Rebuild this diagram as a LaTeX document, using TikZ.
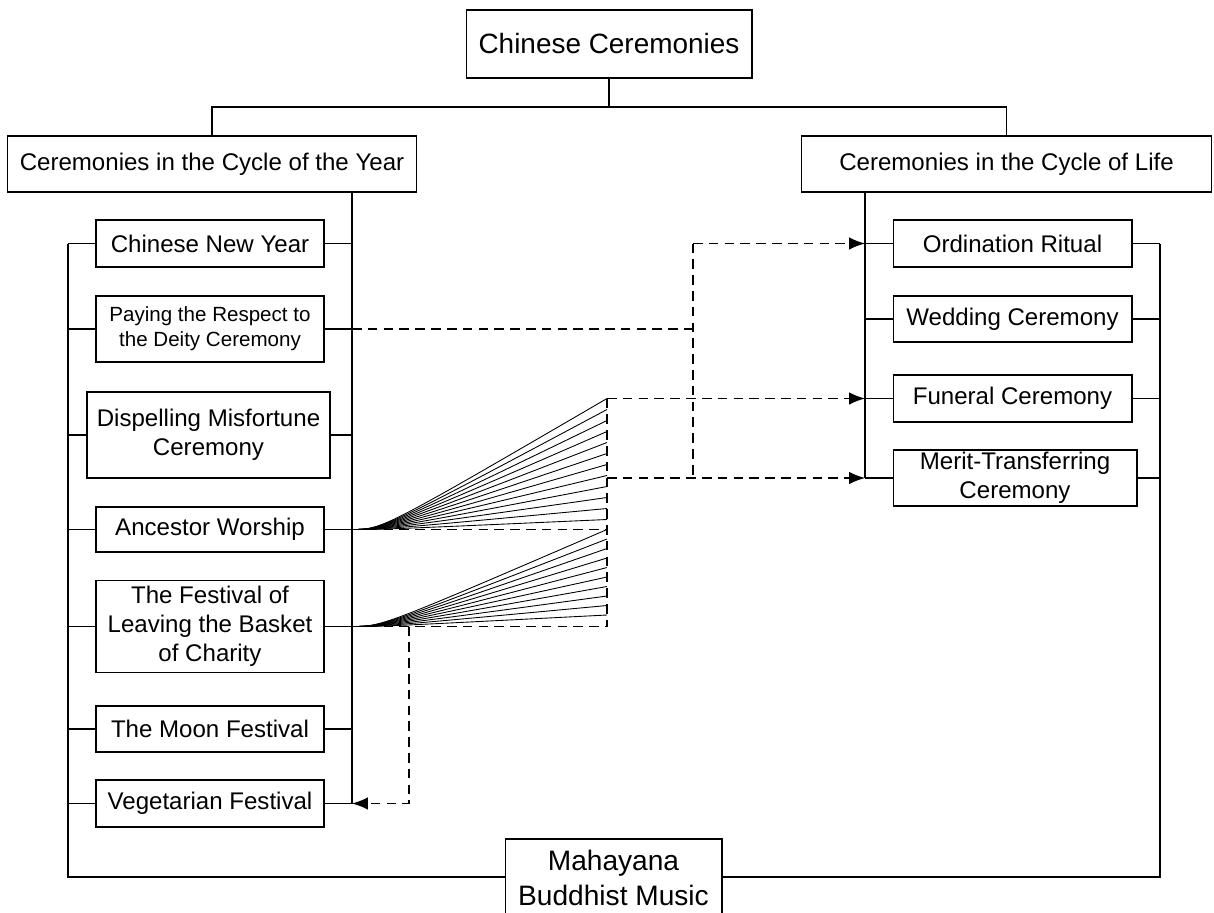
\documentclass[tikz,border=0pt]{standalone}
\usepackage{fontspec}
\setmainfont{Liberation Sans}
\usetikzlibrary{positioning}
\usetikzlibrary{calc}
\usetikzlibrary{arrows.meta}

\begin{document}
\begin{tikzpicture}
	[
		x = 0.02cm, y = -0.02cm,
		box/.style = {rectangle, draw = black, line width = 0.6pt, align = center, inner sep = 0pt, font = \fontsize{13.7}{16.5}\selectfont},
		leftbox/.style = {box, minimum width = 4.56cm, minimum height = 0.94cm},
		rightbox/.style = {box, minimum width = 4.78cm, minimum height = 0.94cm},
		link/.style = {line width = 0.6pt},
		dashlink/.style = {line width = 0.7pt, dash pattern = on 5.5pt off 3.5pt},
		fanline/.style = {line width = 0.5pt},
		tip/.style = {-{Latex[length = 9pt, width = 7pt]}},
	]
	\useasboundingbox (0,0) rectangle (1214,913);

	\node (root) [box, minimum width = 5.72cm, minimum height = 1.36cm, font = \fontsize{15.9}{19}\selectfont] at (609,44) {Chinese Ceremonies};
	\node (year) [box, minimum width = 8.2cm, minimum height = 1.12cm] at (212,164) {Ceremonies in the Cycle of the Year};
	\node (life) [box, minimum width = 8.22cm, minimum height = 1.12cm] at (1006.5,164) {Ceremonies in the Cycle of Life};

	\node (cny) [leftbox] at (210,243.5) {Chinese New Year};
	\node (deity) [leftbox, minimum height = 1.32cm, font = \fontsize{11.7}{14.2}\selectfont] at (210,329) {Paying the Respect to\\the Deity Ceremony};
	\node (dispel) [leftbox, minimum width = 4.86cm, minimum height = 1.72cm] at (208.5,435) {Dispelling Misfortune\\Ceremony};
	\node (ancestor) [leftbox, minimum height = 0.9cm] at (210,529.5) {Ancestor Worship};
	\node (basket) [leftbox, minimum height = 1.84cm] at (210,626.5) {The Festival of\\Leaving the Basket\\of Charity};
	\node (moon) [leftbox, minimum height = 0.92cm] at (210,729) {The Moon Festival};
	\node (veg) [leftbox] at (210,803.5) {Vegetarian Festival};

	\node (ord) [rightbox] at (1012.5,243.5) {Ordination Ritual};
	\node (wed) [rightbox, minimum height = 0.92cm] at (1012.5,319) {Wedding Ceremony};
	\node (fun) [rightbox] at (1012.5,398.5) {Funeral Ceremony};
	\node (merit) [rightbox, minimum width = 4.88cm, minimum height = 1.12cm] at (1015,478) {Merit-Transferring\\Ceremony};

	\node (music) [box, minimum width = 4.34cm, minimum height = 1.56cm, font = \fontsize{16}{19.8}\selectfont] at (613.5,878) {Mahayana\\Buddhist Music};

	\coordinate (split) at (609,107);
	\coordinate (outl) at (68,0);
	\coordinate (ybus) at (352,0);
	\coordinate (lbus) at (865,0);
	\coordinate (outr) at (1160,0);
	\coordinate (jog) at (693,0);
	\coordinate (fanx) at (607,0);
	\coordinate (back) at (409,0);

	\draw [link] (root) -- (split) -| (year);
	\draw [link] (split) -| (life);

	\draw [link] (ybus |- year.south) -- (ybus |- veg);
	\draw [link] (outl |- cny) -- (outl |- 0,877) -- (music.west |- 0,877);
	\foreach \n in {cny, deity, dispel, ancestor, basket, moon, veg}
	{
		\draw [link] (outl |- \n) -- (\n.west);
		\draw [link] (\n.east) -- (ybus |- \n);
	}

	\draw [link] (lbus |- life.south) -- (lbus |- merit);
	\draw [link] (outr |- ord) -- (outr |- 0,877) -- (music.east |- 0,877);
	\foreach \n in {ord, wed, fun, merit}
	{
		\draw [link] (lbus |- \n) -- (\n.west);
		\draw [link] (\n.east) -- (outr |- \n);
	}

	\foreach \k in {0,...,11}
		\draw [fanline] (ybus |- ancestor) .. controls ($(ybus |- ancestor) + (30,0)$) .. ($(fanx |- fun) + (0,\k*11)$);
	\foreach \k in {0,...,9}
		\draw [fanline] (ybus |- basket) .. controls ($(ybus |- basket) + (30,0)$) .. ($(fanx |- ancestor) + (0,\k*9.5)$);

	\draw [dashlink] (fanx |- fun) -- (fanx |- basket);
	\draw [dashlink] (ybus |- ancestor) -- (fanx |- ancestor);
	\draw [dashlink] (ybus |- basket) -- (fanx |- basket);
	\draw [dashlink, tip] (fanx |- fun) -- (lbus |- fun);
	\draw [dashlink, tip] (fanx |- merit) -- (lbus |- merit);
	\draw [dashlink] (ybus |- deity) -- (jog |- deity);
	\draw [dashlink] (jog |- ord) -- (jog |- merit);
	\draw [dashlink, tip] (jog |- ord) -- (lbus |- ord);
	\draw [dashlink, tip] (back |- basket) -- (back |- veg) -- (ybus |- veg);
\end{tikzpicture}
\end{document}
